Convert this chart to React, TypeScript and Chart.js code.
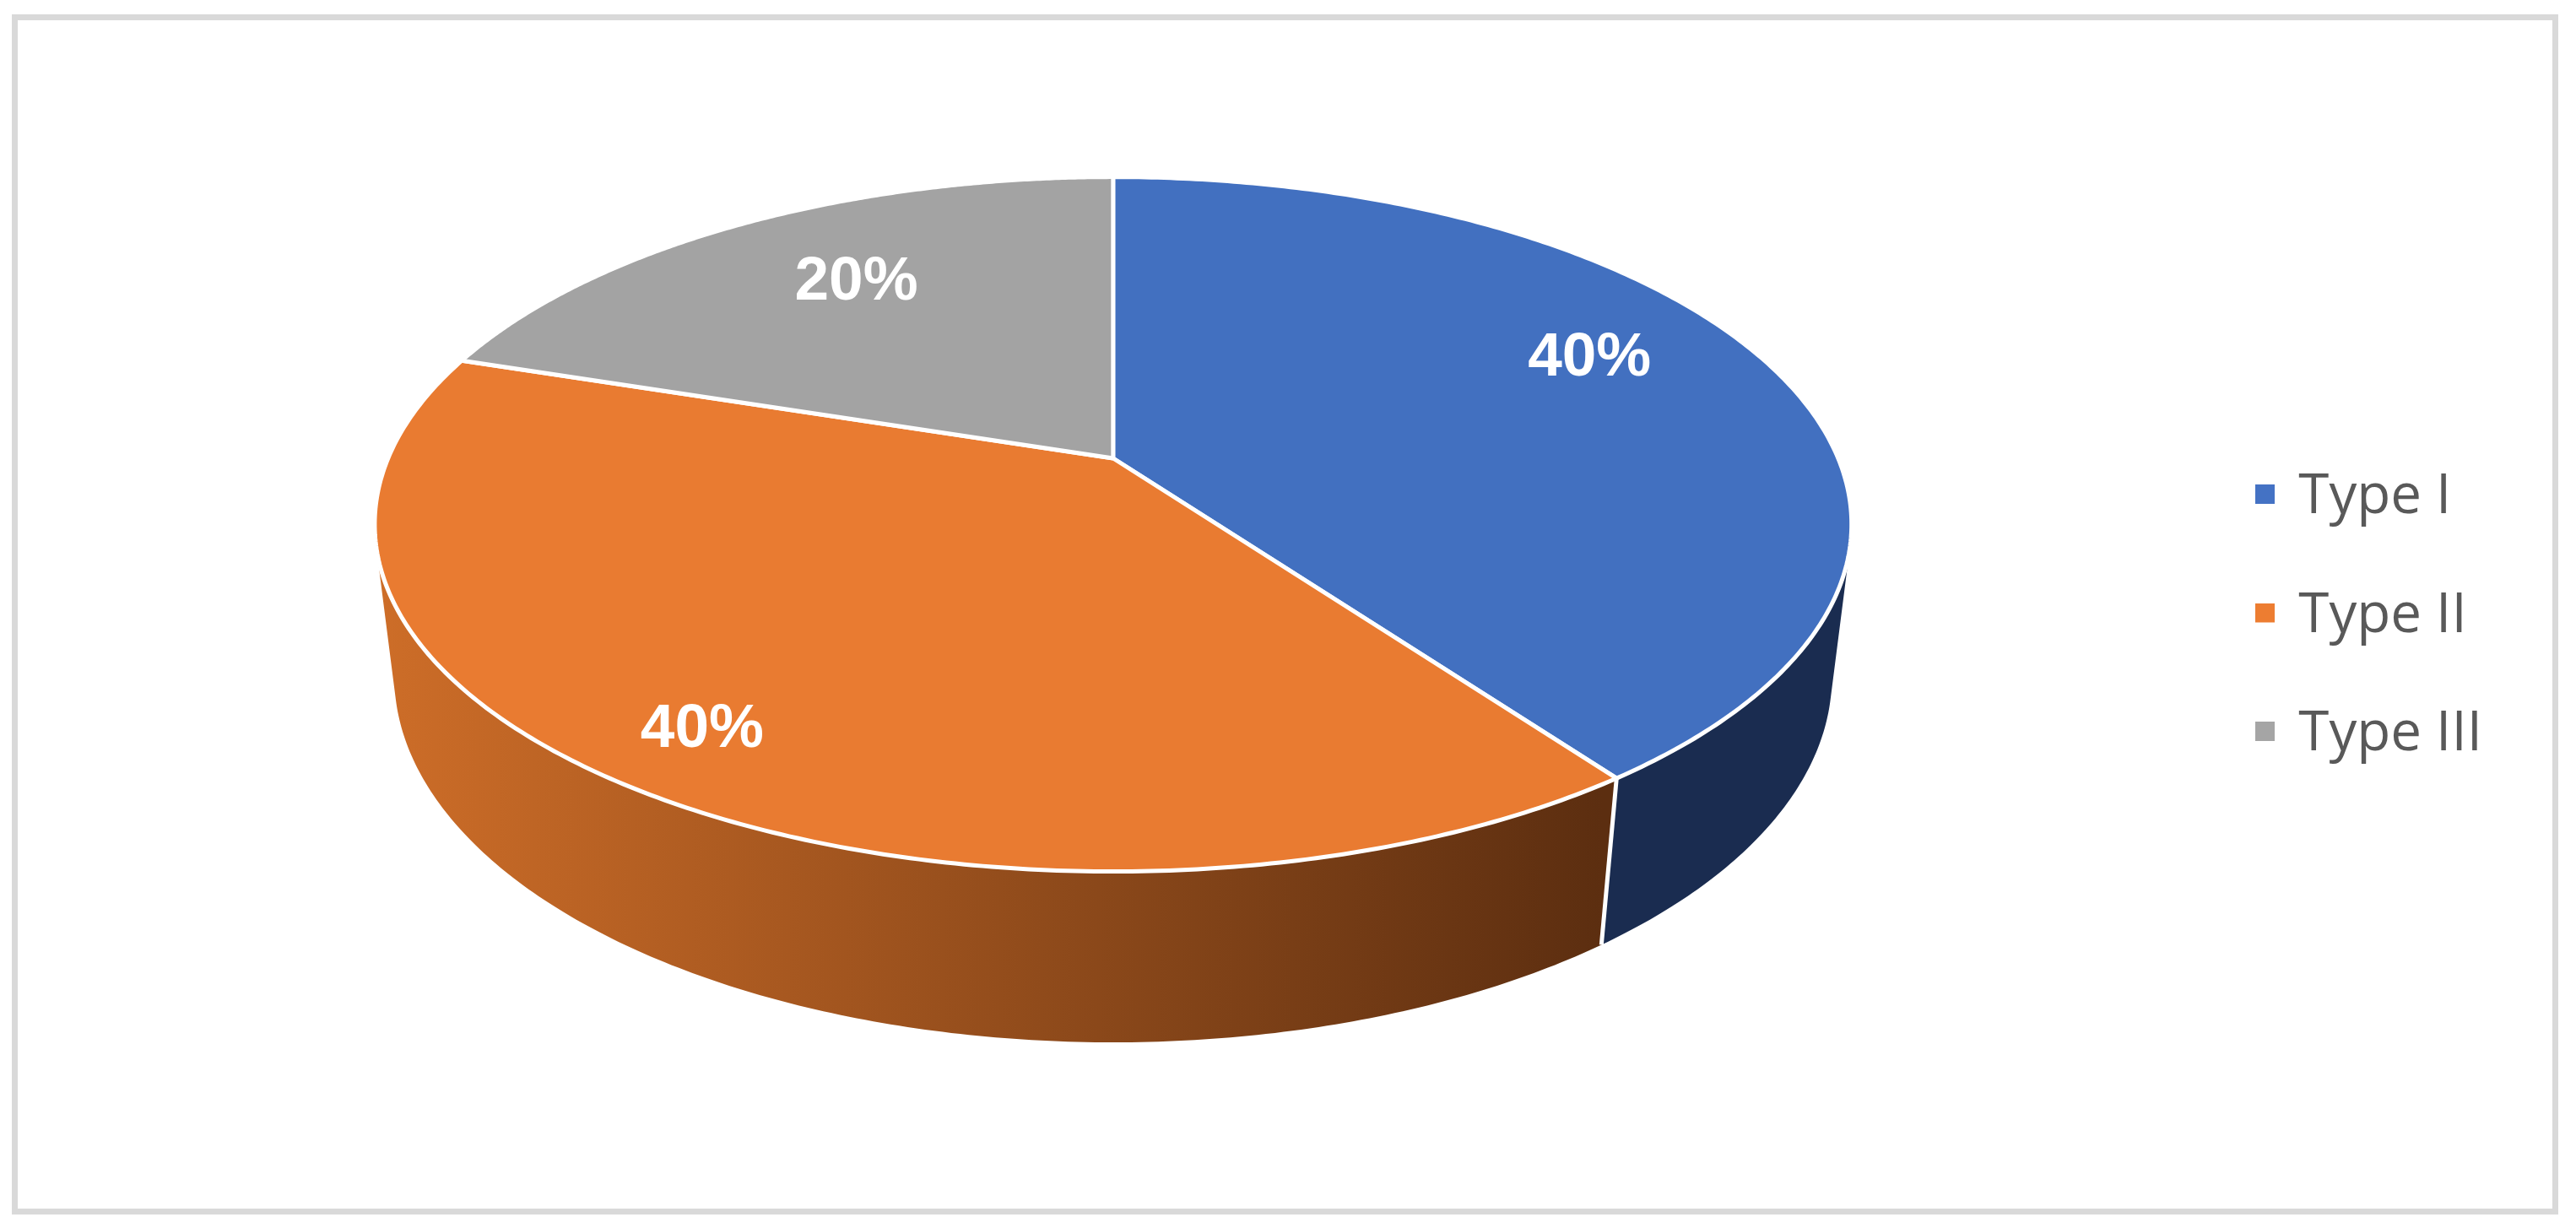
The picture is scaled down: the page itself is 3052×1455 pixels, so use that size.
import React, { useEffect, useRef } from "react";
import { Chart, registerables } from "chart.js";

Chart.register(...registerables);

const categories = ["Type I", "Type II", "Type III"];
const shares = [40, 40, 20];
const topColors = ["#4270C0", "#E97B31", "#A3A3A3"];
const legendColors = ["#4472C4", "#ED7D31", "#A5A5A5"];
const labelPlacement = [
  { r: 0.72, dy: -33 },
  { r: 0.84, dy: 12 },
  { r: 0.664, dy: -15 },
];

// perspective of the pie disc
const K = -0.1898;
const RADIUS_GAIN = 859 / 722;
const LIFT = -187;
const Y_SCALE = 396.2 / 858;
const DEPTH_M = 0.0263;
const DEPTH_C = 182 / 858;
const STROKE = "#FFFFFF";
const SWATCH_SIZE = 23;
const SWATCH_RAISE = 4;

function project(arc: any, angle: number, radial: number, z: number) {
  const R = arc.outerRadius * RADIUS_GAIN;
  const u = Math.cos(angle) * radial;
  const v = Math.sin(angle) * radial;
  const den = 1 + K * v + DEPTH_M * z;
  return {
    x: arc.x + (R * u) / den,
    y: arc.y + LIFT + (R * (Y_SCALE * v + DEPTH_C * z)) / den,
  };
}

function wallVisible(arc: any, a: number) {
  const d = 0.001;
  const p0 = project(arc, a - d, 1, 0);
  const p1 = project(arc, a + d, 1, 0);
  const q = project(arc, a, 1, 1);
  return (p1.x - p0.x) * (q.y - p0.y) - (p1.y - p0.y) * (q.x - p0.x) < 0;
}

function swatch(color: string) {
  const c = document.createElement("canvas");
  c.width = SWATCH_SIZE;
  c.height = SWATCH_SIZE + SWATCH_RAISE * 2;
  const g = c.getContext("2d")!;
  g.fillStyle = color;
  g.fillRect(0, 0, SWATCH_SIZE, SWATCH_SIZE);
  return c;
}

const pie3d = {
  id: "pie3d",
  beforeDraw(chart: any) {
    const { ctx } = chart;
    ctx.save();
    ctx.strokeStyle = "#D9D9D9";
    ctx.lineWidth = 7;
    ctx.strokeRect(17.5, 20.5, 3010, 1415);
    ctx.restore();
  },
  beforeDatasetDraw(chart: any, args: any) {
    const { ctx } = chart;
    const arcs = args.meta.data;
    const STEPS = 240;
    ctx.save();
    ctx.lineJoin = "round";

    // side wall
    arcs.forEach((arc: any, i: number) => {
      const angles: number[] = [];
      for (let s = 0; s <= STEPS; s++) {
        const a = arc.startAngle + ((arc.endAngle - arc.startAngle) * s) / STEPS;
        if (wallVisible(arc, a)) angles.push(a);
      }
      if (!angles.length) return;
      ctx.beginPath();
      angles.forEach((a, n) => {
        const p = project(arc, a, 1, 0);
        n ? ctx.lineTo(p.x, p.y) : ctx.moveTo(p.x, p.y);
      });
      [...angles].reverse().forEach((a) => {
        const p = project(arc, a, 1, 1);
        ctx.lineTo(p.x, p.y);
      });
      ctx.closePath();
      if (i === 0) {
        ctx.fillStyle = "#1A2C50";
      } else {
        const g = ctx.createLinearGradient(450, 0, 1900, 0);
        g.addColorStop(0, "#CD6D28");
        g.addColorStop(1, "#5C2E10");
        ctx.fillStyle = g;
      }
      ctx.fill();
    });

    // white edge between walls
    const seam0 = project(arcs[0], arcs[0].endAngle, 1, 0);
    const seam1 = project(arcs[0], arcs[0].endAngle, 1, 1);
    ctx.strokeStyle = STROKE;
    ctx.lineWidth = 5;
    ctx.beginPath();
    ctx.moveTo(seam0.x, seam0.y);
    ctx.lineTo(seam1.x, seam1.y);
    ctx.stroke();

    // top faces
    arcs.forEach((arc: any, i: number) => {
      ctx.beginPath();
      const c = project(arc, 0, 0, 0);
      ctx.moveTo(c.x, c.y);
      for (let s = 0; s <= STEPS; s++) {
        const a = arc.startAngle + ((arc.endAngle - arc.startAngle) * s) / STEPS;
        const p = project(arc, a, 1, 0);
        ctx.lineTo(p.x, p.y);
      }
      ctx.closePath();
      ctx.fillStyle = topColors[i];
      ctx.fill();
      ctx.strokeStyle = STROKE;
      ctx.lineWidth = 5;
      ctx.stroke();
    });
    ctx.restore();
    return false;
  },
  afterDatasetsDraw(chart: any) {
    const { ctx } = chart;
    const meta = chart.getDatasetMeta(0);
    ctx.save();
    ctx.fillStyle = "#FFFFFF";
    ctx.font = "bold 73px 'Liberation Sans'";
    ctx.textAlign = "center";
    ctx.textBaseline = "middle";
    meta.data.forEach((arc: any, i: number) => {
      const mid = (arc.startAngle + arc.endAngle) / 2;
      const place = labelPlacement[i];
      const p = project(arc, mid, place.r, 0);
      ctx.fillText(`${shares[i]}%`, p.x, p.y + place.dy);
    });
    ctx.restore();
  },
};

export default function App() {
  const ref = useRef<HTMLCanvasElement>(null);
  useEffect(() => {
    const chart = new Chart(ref.current!, {
      type: "pie",
      data: {
        labels: categories,
        datasets: [{ data: shares, backgroundColor: legendColors, borderWidth: 0 }],
      },
      options: {
        responsive: false,
        animation: false,
        events: [],
        layout: { padding: { left: 36, right: 101, top: 8, bottom: 3 } },
        plugins: {
          tooltip: { enabled: false },
          legend: {
            position: "right",
            labels: {
              usePointStyle: true,
              boxWidth: 14,
              boxHeight: 23,
              padding: 75,
              color: "#595959",
              font: { family: "'Open Sans'", size: 65.5 },
              generateLabels: (c: any) =>
                (Chart as any).overrides.pie.plugins.legend.labels
                  .generateLabels(c)
                  .map((item: any, i: number) => ({ ...item, pointStyle: swatch(legendColors[i]) })),
            },
          },
        },
      },
      plugins: [pie3d],
    } as any);
    return () => chart.destroy();
  }, []);
  return (
    <canvas
      ref={ref}
      width={3052}
      height={1455}
      style={{ position: "fixed", left: 0, top: 0, width: 3052, height: 1455, display: "block" }}
    />
  );
}
